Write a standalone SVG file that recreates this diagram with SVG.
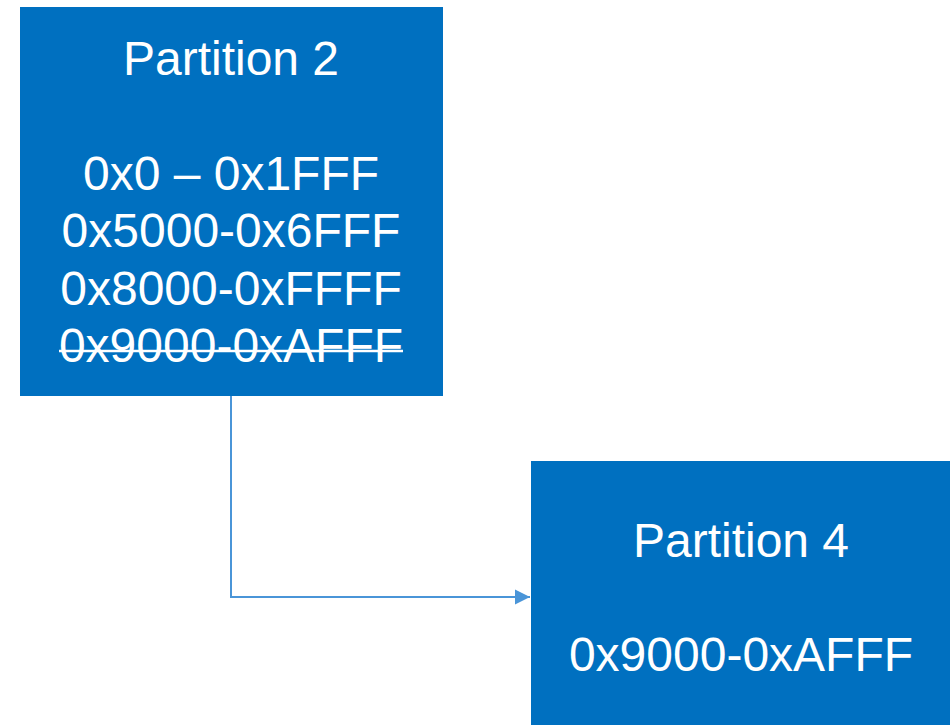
<svg xmlns="http://www.w3.org/2000/svg" width="950" height="725" viewBox="0 0 950 725">
<defs>
<style>
.box{fill:#0070C0}
.t{fill:#FFFFFF;font-family:"Liberation Sans",Arial,sans-serif;font-size:48px;text-anchor:middle}
.conn{fill:none;stroke:#4A95D8;stroke-width:2}
</style>
<marker id="arrow" markerWidth="16" markerHeight="16" refX="15" refY="8" orient="auto" markerUnits="userSpaceOnUse">
<path d="M0,0.5 L15,8 L0,15.5 Z" fill="#4A95D8"/>
</marker>
</defs>
<rect width="950" height="725" fill="#FFFFFF"/>
<g id="partition2">
<rect class="box" x="20" y="7" width="423" height="389"/>
<text class="t" x="231" y="75">Partition 2</text>
<text class="t" x="231" y="190">0x0 – 0x1FFF</text>
<text class="t" x="231" y="247">0x5000-0x6FFF</text>
<text class="t" x="231" y="305">0x8000-0xFFFF</text>
<text class="t" x="231" y="362">0x9000-0xAFFF</text>
<line x1="59" y1="351" x2="403" y2="351" stroke="#FFFFFF" stroke-width="2.5"/>
</g>
<g id="partition4">
<rect class="box" x="531" y="461" width="419" height="264"/>
<text class="t" x="741" y="557">Partition 4</text>
<text class="t" x="741" y="671">0x9000-0xAFFF</text>
</g>
<g id="connectors">
<path class="conn" d="M231,396 L231,597 L530,597" marker-end="url(#arrow)"/>
</g>
</svg>
